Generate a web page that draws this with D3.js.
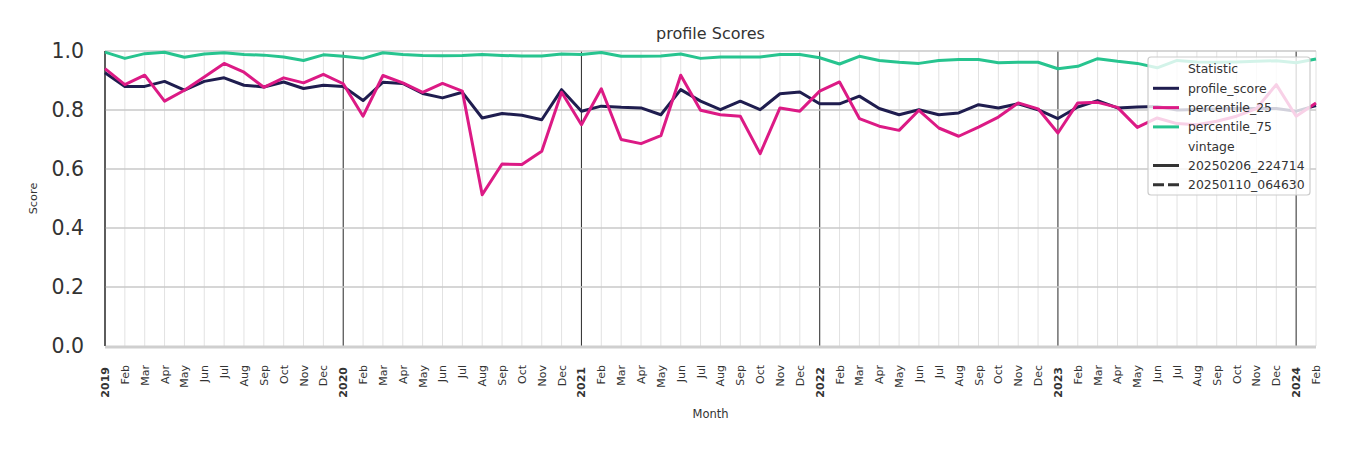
<!DOCTYPE html>
<html>
<head>
<meta charset="utf-8">
<script src="https://cdn.jsdelivr.net/npm/d3@7"></script>
<style>
  body { margin: 0; background: #fff; }
  text { font-family: "DejaVu Sans", sans-serif; fill: #333; }
</style>
</head>
<body>
<div id="chart"></div>
<script>
// monthly scores, Jan 2019 .. Feb 2024
var months = d3.utcMonth.range(new Date(Date.UTC(2019, 0, 1)), new Date(Date.UTC(2024, 2, 1)));

var profileScore = [
  0.926,0.880,0.880,0.897,0.867,0.897,0.909,0.884,0.878,0.895,0.873,0.884,
  0.880,0.832,0.894,0.890,0.856,0.841,0.860,0.773,0.788,0.782,0.767,0.869,
  0.796,0.813,0.809,0.807,0.784,0.869,0.830,0.801,0.830,0.801,0.855,0.861,
  0.821,0.821,0.847,0.805,0.784,0.801,0.784,0.790,0.818,0.807,0.821,0.801,
  0.771,0.810,0.832,0.807,0.810,0.812,0.800,0.802,0.803,0.805,0.805,0.805,
  0.796,0.815];
var percentile25 = [
  0.940,0.886,0.918,0.830,0.867,0.912,0.958,0.928,0.877,0.909,0.892,0.921,
  0.889,0.779,0.917,0.892,0.860,0.890,0.864,0.513,0.617,0.615,0.660,0.860,
  0.750,0.872,0.700,0.686,0.713,0.918,0.799,0.784,0.779,0.652,0.807,0.796,
  0.864,0.895,0.771,0.745,0.731,0.799,0.739,0.711,0.742,0.776,0.824,0.804,
  0.722,0.824,0.826,0.809,0.741,0.773,0.754,0.750,0.762,0.779,0.805,0.886,
  0.779,0.824];
var percentile75 = [
  0.996,0.975,0.991,0.996,0.979,0.990,0.994,0.988,0.986,0.980,0.968,0.987,
  0.982,0.975,0.994,0.988,0.985,0.984,0.985,0.988,0.985,0.983,0.983,0.990,
  0.988,0.995,0.982,0.982,0.983,0.990,0.975,0.980,0.980,0.980,0.988,0.988,
  0.977,0.956,0.982,0.968,0.962,0.958,0.968,0.971,0.971,0.960,0.962,0.962,
  0.940,0.948,0.974,0.965,0.958,0.943,0.968,0.963,0.962,0.963,0.965,0.967,
  0.960,0.973];

var seriesNames = ["profile_score", "percentile_25", "percentile_75"];
var seriesColors = ["#1f1d4f", "#dc1a85", "#27c48f"];
var vintages = ["20250206_224714", "20250110_064630"];
var yTicks = [0, 0.2, 0.4, 0.6, 0.8, 1.0];

var W = 1350, H = 450,
    plotL = 105, plotR = 1316, plotT = 51, plotB = 346;

var svg = d3.select("#chart").append("svg").attr("width", W).attr("height", H);

var x = d3.scalePoint().domain(d3.range(months.length)).range([plotL, plotR]);
var y = d3.scaleLinear().domain([0, 1]).range([plotB, plotT]);

// grid
svg.append("g").selectAll("line").data(months).join("line")
    .attr("x1", (d, i) => x(i)).attr("x2", (d, i) => x(i))
    .attr("y1", plotT).attr("y2", plotB)
    .attr("stroke", d => d.getUTCMonth() == 0 ? "#3a3a3a" : "#e2e2e2")
    .attr("stroke-width", d => d.getUTCMonth() == 0 ? 1.1 : 1);

svg.append("g").selectAll("line").data(yTicks.filter(d => d > 0)).join("line")
    .attr("x1", plotL).attr("x2", plotR)
    .attr("y1", d => y(d)).attr("y2", d => y(d))
    .attr("stroke", "#c8c8c8").attr("stroke-width", 1.6);

// spines
svg.append("line").attr("x1", plotL).attr("x2", plotR).attr("y1", plotB + 1).attr("y2", plotB + 1)
    .attr("stroke", "#cfcfcf").attr("stroke-width", 3);
svg.append("line").attr("x1", plotL).attr("x2", plotL).attr("y1", plotT).attr("y2", plotB)
    .attr("stroke", "#3a3a3a").attr("stroke-width", 1.2);

// lines
var line = d3.line().x((d, i) => x(i)).y(d => y(d));
[profileScore, percentile25, percentile75].forEach(function (vals, k) {
  svg.append("path").datum(vals).attr("d", line)
      .attr("fill", "none").attr("stroke", seriesColors[k])
      .attr("stroke-width", 3).attr("stroke-linejoin", "round");
});

// y axis labels
svg.append("g").selectAll("text").data(yTicks).join("text")
    .attr("x", 84).attr("y", d => y(d)).attr("dy", "0.36em")
    .attr("text-anchor", "end").style("font-size", "20.5px")
    .text(d => d3.format(".1f")(d));

// x axis labels
var fmtMon = d3.utcFormat("%b"), fmtYear = d3.utcFormat("%Y");
svg.append("g").selectAll("text").data(months).join("text")
    .attr("transform", (d, i) => "translate(" + (x(i) + 4) + "," + (d.getUTCMonth() == 0 ? 367 : 365) + ") rotate(-90)")
    .attr("text-anchor", "end")
    .style("font-size", "11px")
    .style("font-weight", d => d.getUTCMonth() == 0 ? "bold" : "normal")
    .text(d => d.getUTCMonth() == 0 ? fmtYear(d) : fmtMon(d));

// titles
svg.append("text").attr("x", (plotL + plotR) / 2).attr("y", 39).attr("text-anchor", "middle")
    .style("font-size", "16px").text("profile Scores");
svg.append("text").attr("x", (plotL + plotR) / 2).attr("y", 418).attr("text-anchor", "middle")
    .style("font-size", "11.5px").text("Month");
svg.append("text").attr("transform", "translate(37," + (plotT + plotB) / 2 + ") rotate(-90)")
    .attr("text-anchor", "middle").style("font-size", "11.3px").text("Score");

// legend
var lg = svg.append("g");
lg.append("rect").attr("x", 1148).attr("y", 57).attr("width", 162).attr("height", 138)
    .attr("rx", 3).attr("fill", "#fff").attr("fill-opacity", 0.8)
    .attr("stroke", "#cccccc").attr("stroke-width", 1.2);
var rows = [{t: "Statistic"}]
    .concat(seriesNames.map((n, i) => ({t: n, c: seriesColors[i]})))
    .concat([{t: "vintage"}])
    .concat(vintages.map((v, i) => ({t: v, c: "#333", dash: i ? "11,4" : null})));
var row = lg.selectAll("g.row").data(rows).join("g")
    .attr("transform", (d, i) => "translate(0," + (69 + i * 19.3) + ")");
row.filter(d => d.c).append("line")
    .attr("x1", 1153).attr("x2", 1179).attr("stroke", d => d.c).attr("stroke-width", 3)
    .attr("stroke-dasharray", d => d.dash);
row.append("text").attr("x", 1188).attr("dy", "0.35em").style("font-size", "12.4px").text(d => d.t);
</script>
</body>
</html>
